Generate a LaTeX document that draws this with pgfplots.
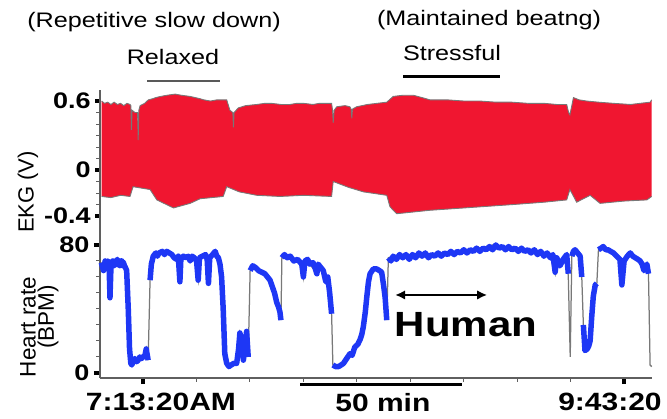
\documentclass[border=0pt]{standalone}
\usepackage{fontspec}
\setmainfont[FakeStretch=1.2]{Liberation Sans}
\newfontfamily\plainsans{Liberation Sans}
\usepackage{pgfplots}
\pgfplotsset{compat=1.18}
\usepgfplotslibrary{fillbetween}
\usetikzlibrary{arrows.meta}
\definecolor{ekgred}{RGB}{240,22,48}
\definecolor{hrblue}{RGB}{30,55,245}
\definecolor{axgray}{RGB}{95,95,95}
\definecolor{trgray}{RGB}{120,120,120}

\pgfplotsset{
  panel/.style={
    scale only axis, width=220.8pt, clip=false,
    xmin=-13.41, xmax=158.7,
    axis line style={axgray, line width=0.6pt},
    tick align=outside,
    major tick length=2pt, minor tick length=1.5pt,
    major tick style={black, line width=1.6pt},
    minor tick style={axgray, line width=0.4pt},
    yticklabel style={font=\bfseries\fontsize{9}{9}\selectfont, inner sep=1.5pt},
  },
  hrseg/.style={hrblue, line width=2.2pt, line join=round},
}

\begin{document}
\begin{tikzpicture}
% ---- EKG panel (time in minutes after 7:13:20) ----
\begin{axis}[panel, at={(40pt,-35.8pt)}, anchor=north west, height=52.9pt,
    ymin=-0.45, ymax=0.7,
    axis x line=none, axis y line*=left,
    ytick={-0.4,0,0.6}, yticklabels={-0.4,0,0.6},
    minor ytick={-0.3,-0.2,-0.1,0.1,0.2,0.3,0.4,0.5}]
\addplot[name path=up, trgray, line width=0.35pt] coordinates {
 (-12.9,0.60) (-12,0.58) (-11,0.59) (-10,0.57) (-9,0.59) (-8,0.57) (-7,0.58)
 (-6,0.56) (-5,0.58) (-4.05,0.57) (-3.8,0.56) (-3.6,0.35) (-3.4,0.52)
 (-2.5,0.50) (-1.7,0.50) (-1.5,0.26) (-1.3,0.52) (-0.9,0.56) (0.5,0.58)
 (1.65,0.61) (3,0.62) (4,0.63) (5.5,0.64) (7.4,0.65) (10,0.66) (12,0.65)
 (14.7,0.64) (17.8,0.62) (19,0.61) (21,0.60) (23,0.61) (25.0,0.61) (26.1,0.61)
 (27.1,0.52) (28.0,0.50) (28.2,0.37) (28.4,0.50) (29.7,0.54) (32,0.56)
 (35.5,0.57) (38,0.58) (40,0.58) (43,0.57) (45.8,0.57) (48,0.58) (50,0.58)
 (53,0.57) (55,0.58) (58.8,0.58) (59.1,0.52) (59.3,0.41) (59.6,0.52)
 (60.4,0.55) (63,0.56) (64.5,0.55) (64.9,0.53) (65.1,0.45) (65.3,0.53)
 (66.6,0.55) (70,0.57) (73,0.58) (76,0.59) (78,0.64) (81,0.65) (84.3,0.65)
 (87,0.63) (89.5,0.61) (95,0.61) (100,0.60) (105,0.60) (110,0.59) (115,0.59)
 (120,0.58) (125,0.58) (129,0.57) (132.1,0.57) (132.7,0.50) (133.1,0.48)
 (134.2,0.63) (136,0.61) (138.3,0.60) (142,0.59) (146.6,0.58) (152,0.57)
 (155,0.58) (158.1,0.59) (158.6,0.61)
};
\addplot[name path=lo, trgray, line width=0.35pt] coordinates {
 (-12.9,-0.23) (-10,-0.24) (-7,-0.22) (-4.05,-0.23) (-3.1,-0.145) (2.2,-0.17)
 (4.3,-0.26) (9.5,-0.33) (14.7,-0.29) (17.8,-0.25) (25.0,-0.23) (26.1,-0.145)
 (30,-0.19) (35.5,-0.22) (42.7,-0.23) (50,-0.22) (58.8,-0.23) (59.3,-0.10)
 (64,-0.15) (68.7,-0.19) (76.0,-0.22) (77.0,-0.32) (79.1,-0.38) (89.5,-0.35)
 (100,-0.33) (115.5,-0.30) (125,-0.28) (132.1,-0.26) (133.1,-0.17) (135.2,-0.28)
 (139.4,-0.22) (142.5,-0.29) (150,-0.27) (157.1,-0.26) (158.6,-0.23)
};
\addplot[ekgred] fill between[of=up and lo];

% annotations above the trace
\draw[gray!70!black, line width=0.8pt] (axis cs:1.25,0.774) -- (axis cs:24.0,0.774);
\draw[black, line width=1.3pt] (axis cs:81.1,0.81) -- (axis cs:111.3,0.81);
\node[font=\fontsize{8.4}{9}\selectfont] at (axis cs:9.35,0.983) {Relaxed};
\node[font=\fontsize{8.4}{9}\selectfont] at (axis cs:96.35,1.017) {Stressful};
\node[font=\fontsize{8.4}{9}\selectfont] at (axis cs:3.43,1.287) {(Repetitive slow down)};
\node[font=\fontsize{8.4}{9}\selectfont] at (axis cs:107.9,1.304) {(Maintained beatng)};
\end{axis}

% ---- Heart-rate panel ----
\begin{axis}[panel, at={(40pt,-88.7pt)}, anchor=north west, height=62.4pt,
    ymin=-3, ymax=94.5,
    axis x line*=bottom, axis y line*=left,
    ytick={0,80}, yticklabels={0,80},
    minor ytick={10,20,30,40,50,60,70},
    xtick={0,150}, xticklabels={},
    minor xtick={16.67,33.33,50,66.67,83.33,100,116.67,133.33},
    major tick length=2.5pt]
% full trace in thin gray (shows at the fast drops)
\addplot[trgray, line width=0.5pt] coordinates {
 (-13.0,69) (-12.3,64) (-11.8,70) (-11.2,66) (-10.6,69) (-10.3,47) (-10.0,66)
 (-9.4,70) (-8.7,68) (-8.0,71) (-7.3,67) (-6.6,70) (-6.1,69) (-5.5,66) (-5.1,64)
 (-4.6,40) (-4.2,15) (-3.8,6) (-3.5,5) (-2.6,9) (-1.5,8) (-0.5,9) (0.6,11) (1.0,15)
 (1.6,8) (2.2,58) (2.6,68) (3.2,73) (5.0,75) (7.4,76) (9.0,74) (10.5,71) (11.5,57)
 (11.8,71) (13.5,72) (14.7,70) (16.0,72) (17.2,58) (17.6,72) (19.5,74) (20.4,56)
 (20.8,72) (22.5,76) (23.5,72) (24.5,60) (25.0,40) (25.5,12) (26.1,6) (27.5,5)
 (29.2,6) (30.2,25) (31.0,18) (31.3,8) (32.3,26) (32.8,10) (33.4,64) (35,66)
 (37,63) (39.6,58) (41,50) (41.7,44) (42.7,38) (43.0,33) (43.3,72) (45,72) (47,70)
 (49.5,68) (50,60) (50.5,70) (52,68) (54.2,62) (54.6,68) (56.2,64) (57,57)
 (58.2,50) (58.8,37) (59.2,5) (61,4) (62.5,6) (64.5,12) (66,16) (67.7,21)
 (68.7,29) (69.8,48) (70.8,62) (72.9,65) (74.4,63) (75.0,55) (75.5,47) (76.0,33)
 (76.5,72) (78,73) (80,74) (83,73) (86,75) (90,74) (94,75) (98,76) (101,77)
 (105,78) (109,80) (113,78) (117,78) (121,76) (124,75) (127,73) (128.5,62)
 (129,72) (130,67) (131,71) (132.1,74) (132.6,60) (133.2,10) (133.7,73)
 (134.7,77) (136.3,73) (136.8,60) (137.3,30) (137.8,14) (138.5,15) (139.4,20)
 (140.4,48) (141.0,55) (141.5,56) (142.0,77) (143.5,79) (145,77) (146.7,75)
 (148.7,71) (149.3,55) (150,70) (151.9,75) (153.5,72) (155,70) (156.2,64)
 (157.1,68) (157.6,62) (158.1,5) (158.6,4)
};
% blue heart-rate segments
\addplot[hrseg] coordinates {
 (-13.0,69) (-12.6,66) (-12.3,64) (-11.8,70) (-11.5,67) (-11.2,66) (-10.9,70)
 (-10.6,69) (-10.3,47) (-10.0,66) (-9.7,68) (-9.4,70) (-9.0,67) (-8.7,68)
 (-8.3,70) (-8.0,71) (-7.6,68) (-7.3,67) (-6.9,70) (-6.6,70) (-6.3,67) (-6.1,69)
 (-5.8,67) (-5.5,66) (-5.1,64) (-4.6,40) (-4.2,15) (-3.8,6) (-3.5,5) (-3.0,8)
 (-2.6,9) (-2.0,7) (-1.5,8) (-1.0,10) (-0.5,9) (0,10) (0.6,11) (1.0,15) (1.6,8)
};
\addplot[hrseg] coordinates {
 (2.2,58) (2.6,68) (3.2,73) (4.0,75) (4.5,73) (5.0,75) (6.0,76) (6.7,74)
 (7.4,76) (8.2,75) (9.0,74) (9.7,72) (10.5,71) (11.0,73) (11.5,57) (11.8,71)
 (12.6,73) (13.5,72) (14.1,73) (14.7,70) (15.3,73) (16.0,72) (16.7,70)
 (17.2,58) (17.6,72) (18.5,73) (19.5,74) (20.0,71) (20.4,56) (20.8,72)
 (21.7,74) (22.5,76) (23.0,73) (23.5,72) (24.0,68) (24.5,60) (25.0,40)
 (25.5,12) (26.1,6) (26.8,4) (27.5,5) (28.3,6) (29.2,6) (29.8,15) (30.2,25)
 (31.0,18) (31.3,8) (31.8,18) (32.3,26) (32.8,10)
};
\addplot[hrseg] coordinates {
 (33.4,64) (34.2,67) (35,66) (36,64) (37,63) (38,62) (39.6,58) (40.3,54)
 (41,50) (41.7,44) (42.3,41) (42.7,38) (43.0,33)
};
\addplot[hrseg] coordinates {
 (43.3,72) (44.1,74) (45,72) (45.9,73) (47,70) (48.2,71) (49.5,68) (50,60)
 (50.5,70) (51.3,71) (52,68) (53,69) (53.6,66) (54.2,62) (54.6,68) (55.4,66)
 (56.2,64) (57,57) (57.6,60) (58.2,50) (58.8,37)
};
\addplot[hrseg] coordinates {
 (59.2,5) (60,4) (61,4) (61.8,5) (62.5,6) (63.5,9) (64.5,12) (65.2,11)
 (66,16) (67,18) (67.7,21) (68.2,24) (68.7,29) (69.3,38) (69.8,48) (70.3,57)
 (70.8,62) (71.8,65) (72.9,65) (73.7,64) (74.4,63) (75.0,55) (75.5,47) (76.0,33)
};
\addplot[hrseg] coordinates {
 (76.5,72) (77.3,70) (78,73) (79,71) (80,74) (81,72) (82,74) (83,71) (84,74)
 (85,72) (86,75) (87,73) (88,75) (89,72) (90,74) (91,73) (92,75) (93,73)
 (94,75) (95,74) (96,76) (97,74) (98,76) (99,75) (100,77) (101,75) (102,77)
 (103,76) (104,78) (105,76) (106,78) (107,77) (108,79) (109,77) (110,80)
 (111,78) (112,79) (113,77) (114,79) (115,77) (116,78) (117,76) (118,78)
 (119,76) (120,77) (121,75) (122,77) (123,74) (124,76) (125,73) (126,75)
 (127,72) (127.8,74) (128.5,63) (129,72) (130,67) (131,71) (132.1,74) (132.6,62)
};
\addplot[hrseg] coordinates {
 (133.7,73) (134.2,76) (134.7,77) (135.5,75) (136.3,73) (136.8,60)
};
\addplot[hrseg] coordinates {
 (137.3,30) (137.8,14) (138.5,15) (139.0,17) (139.4,20) (139.9,35) (140.4,48)
 (141.0,55) (141.5,56)
};
\addplot[hrseg] coordinates {
 (142.0,77) (142.8,78) (143.5,79) (144.3,77) (145,77) (145.8,76) (146.7,75)
 (147.7,73) (148.7,71) (149.3,55) (150,70) (151,73) (151.9,75) (152.7,73)
 (153.5,72) (154.3,71) (155,70) (155.6,68) (156.2,64) (157.1,68) (157.6,62)
};

% annotations
\draw[{Latex[length=4pt,width=3.8pt]}-{Latex[length=4pt,width=3.8pt]}, line width=1pt]
  (axis cs:78.6,48.75) -- (axis cs:107.3,48.75);
\node[font=\bfseries\fontsize{14}{14}\selectfont] at (axis cs:100.7,30) {Human};
\draw[black, line width=1.2pt] (axis cs:48.96,-7.5) -- (axis cs:99.47,-7.5);
\node[font=\bfseries\fontsize{10}{10}\selectfont] at (axis cs:74.8,-18.75) {50 min};
\node[font=\bfseries\fontsize{10}{10}\selectfont] at (axis cs:5.6,-18) {7:13:20AM};
\node[font=\bfseries\fontsize{10}{10}\selectfont] at (axis cs:145.6,-18) {9:43:20};
\end{axis}

% y-axis labels
\node[rotate=90, font=\plainsans\fontsize{8.8}{9}\selectfont] at (11.2pt,-76.8pt) {EKG (V)};
\node[rotate=90, font=\plainsans\fontsize{9}{9}\selectfont] at (11.2pt,-130.8pt) {Heart rate};
\node[rotate=90, font=\plainsans\fontsize{9}{9}\selectfont] at (19.2pt,-126.8pt) {(BPM)};

\pgfresetboundingbox
\path[use as bounding box] (0,0) rectangle (266.8pt,-167.2pt);
\end{tikzpicture}
\end{document}
